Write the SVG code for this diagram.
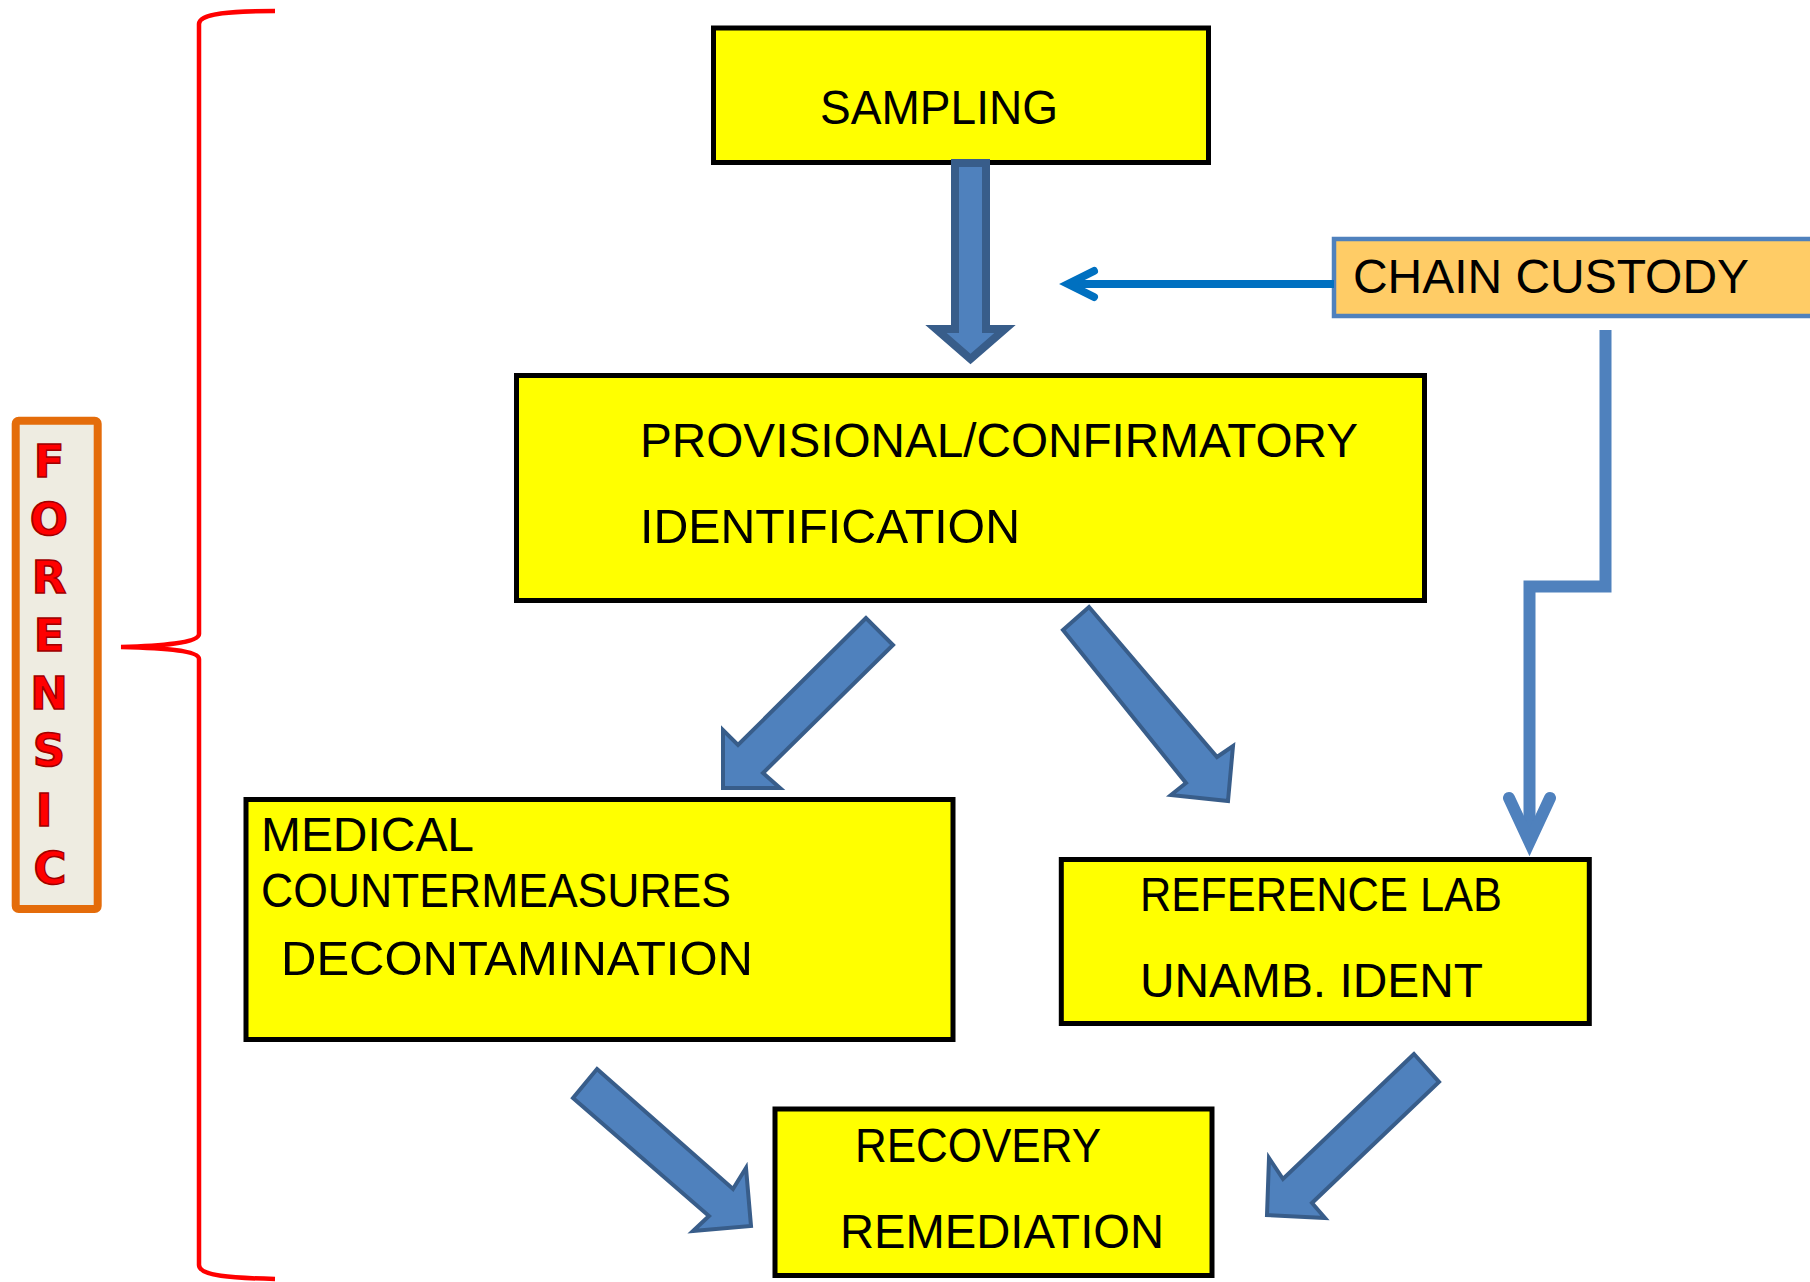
<svg xmlns="http://www.w3.org/2000/svg" width="1810" height="1282" viewBox="0 0 1810 1282">
<style>
.box{fill:#FFFF00;stroke:#000;stroke-width:5}
.t{font-family:"Liberation Sans",Arial,sans-serif;font-size:48px;fill:#000}
.blk{fill:#4F81BD;stroke:#385D8A;stroke-width:4;stroke-linejoin:miter}
.lt{font-family:"DejaVu Sans",Verdana,sans-serif;font-weight:bold;font-size:45px;fill:#FF0000;stroke:#A00000;stroke-width:1.5;text-anchor:middle}
</style>
<rect width="1810" height="1282" fill="#fff"/>
<g id="brace">
<path d="M275,11 C232,11 199,13 199,24 L199,634 C199,643 160,646 121,647 C160,648 199,650 199,659 L199,1265 C199,1276 232,1278 275,1279" fill="none" stroke="#FF0000" stroke-width="4.5"/>
</g>
<g id="forensic">
<rect x="15.7" y="420.7" width="82" height="488.3" rx="3" fill="#EEECE1" stroke="#E46C0A" stroke-width="8"/>
<text class="lt" x="49" y="477">F</text>
<text class="lt" x="49" y="535">O</text>
<text class="lt" x="49" y="593">R</text>
<text class="lt" x="49" y="651">E</text>
<text class="lt" x="49" y="709">N</text>
<text class="lt" x="49" y="766">S</text>
<text class="lt" x="44" y="826">I</text>
<text class="lt" x="50" y="884">C</text>
</g>
<g id="sampling">
<rect class="box" x="713.5" y="28" width="495" height="134.5"/>
<text class="t" x="820" y="124" textLength="238" lengthAdjust="spacingAndGlyphs">SAMPLING</text>
</g>
<g id="provisional">
<rect class="box" x="516.5" y="375.5" width="908" height="225"/>
<text class="t" x="640" y="457" textLength="718" lengthAdjust="spacingAndGlyphs">PROVISIONAL/CONFIRMATORY</text>
<text class="t" x="640" y="543" textLength="380" lengthAdjust="spacingAndGlyphs">IDENTIFICATION</text>
</g>
<g id="medical">
<rect class="box" x="246" y="799.5" width="707" height="240"/>
<text class="t" x="261" y="851" textLength="213" lengthAdjust="spacingAndGlyphs">MEDICAL</text>
<text class="t" x="261" y="907" textLength="470" lengthAdjust="spacingAndGlyphs">COUNTERMEASURES</text>
<text class="t" x="281" y="975" textLength="472" lengthAdjust="spacingAndGlyphs">DECONTAMINATION</text>
</g>
<g id="reference">
<rect class="box" x="1061.3" y="859.5" width="528" height="164"/>
<text class="t" x="1140" y="911" textLength="362" lengthAdjust="spacingAndGlyphs">REFERENCE LAB</text>
<text class="t" x="1140" y="997" textLength="343" lengthAdjust="spacingAndGlyphs">UNAMB. IDENT</text>
</g>
<g id="recovery">
<rect class="box" x="775" y="1109" width="437" height="166.5"/>
<text class="t" x="855" y="1162" textLength="246" lengthAdjust="spacingAndGlyphs">RECOVERY</text>
<text class="t" x="840" y="1248" textLength="324" lengthAdjust="spacingAndGlyphs">REMEDIATION</text>
</g>
<g id="chain">
<rect x="1334" y="239" width="500" height="77" fill="#FFCC66" stroke="#4F81BD" stroke-width="4.5"/>
<text class="t" x="1353" y="293" textLength="396" lengthAdjust="spacingAndGlyphs">CHAIN CUSTODY</text>
</g>
<g id="connectors">
<polygon points="955,163 986,163 986,329 1005,329 970.5,359 936,329 955,329" fill="#4F81BD" stroke="#385D8A" stroke-width="8"/>
<polygon class="blk" points="866,618 738,745 723,730 723,788 780,788 763,773 893,645"/>
<polygon class="blk" points="1089,607 1217,757 1233,746 1228,801 1171,795 1186,783 1063,630"/>
<polygon class="blk" points="597,1069 733,1189 746,1168 751,1226 693,1231 709,1216 573,1098"/>
<polygon class="blk" points="1414,1054 1283,1179 1269,1158 1267,1215 1325,1218 1312,1203 1439,1082"/>
<line x1="1334" y1="284" x2="1072" y2="284" stroke="#0070C0" stroke-width="8"/>
<polyline points="1094,271 1068,284 1094,297" fill="none" stroke="#0070C0" stroke-width="8" stroke-linecap="round" stroke-linejoin="miter"/>
<polyline points="1605.5,330 1605.5,586.5 1529.5,586.5 1529.5,836" fill="none" stroke="#4F81BD" stroke-width="12" stroke-linejoin="miter"/>
<polyline points="1509,798 1529.5,842 1550,798" fill="none" stroke="#4F81BD" stroke-width="12" stroke-linecap="round" stroke-linejoin="miter"/>
</g>
</svg>
